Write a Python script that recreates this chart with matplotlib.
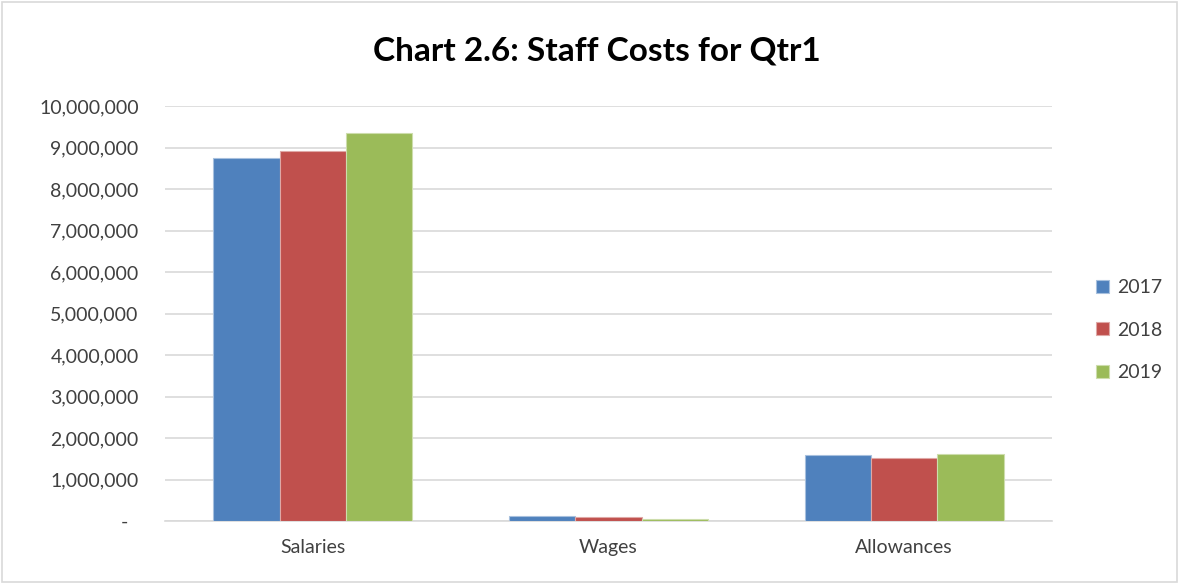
import numpy as np
import matplotlib.pyplot as plt
from matplotlib.patches import Rectangle
from matplotlib.ticker import FuncFormatter

categories = ['Salaries', 'Wages', 'Allowances']
years = ['2017', '2018', '2019']
values_2017 = [8740000, 120000, 1580000]
values_2018 = [8920000, 90000, 1520000]
values_2019 = [9360000, 40000, 1610000]
colors = ['#4F81BD', '#C0504D', '#9BBB59']
edge_colors = ['#A7C0DE', '#DFA8A6', '#CDDDAC']

plt.rcParams['font.family'] = ['Lato', 'DejaVu Sans']

fig = plt.figure(figsize=(11.82, 5.84), dpi=100)
ax = fig.add_axes([165 / 1182, 1 - 521 / 584, (1052 - 165) / 1182, (521 - 106) / 584])

x = np.arange(len(categories))
width = 0.224
series = [values_2017, values_2018, values_2019]
for i, vals in enumerate(series):
    ax.bar(x + (i - 1) * width, vals, width, color=colors[i], edgecolor=edge_colors[i],
           linewidth=0.8, label=years[i], zorder=3)

ax.set_xlim(-0.5, 2.5)
ax.set_ylim(0, 10000000)
ax.set_yticks(np.arange(0, 10000001, 1000000))

def fmt(v, pos):
    if v == 0:
        return '-  '
    return '{:,.0f}'.format(v)

ax.yaxis.set_major_formatter(FuncFormatter(fmt))
ax.set_xticks(x)
ax.set_xticklabels(categories)
ax.tick_params(axis='y', length=0, labelsize=14, colors='#404040', pad=19)
ax.tick_params(axis='x', length=0, labelsize=14, colors='#404040', pad=13)

ax.grid(axis='y', color='#D9D9D9', linewidth=1.2, zorder=0)
for s in ['top', 'right', 'left']:
    ax.spines[s].set_visible(False)
ax.spines['bottom'].set_color('#D9D9D9')
ax.spines['bottom'].set_linewidth(1.2)

fig.text(597 / 1182, 1 - 51 / 584, 'Chart 2.6: Staff Costs for Qtr1', ha='center', va='center',
         fontsize=24, fontweight='bold', color='black')

leg = ax.legend(loc='center left', bbox_to_anchor=(1.03, 0.46), frameon=False, fontsize=14,
                handlelength=0.65, handleheight=0.65, handletextpad=0.45, labelspacing=1.3)
for t in leg.get_texts():
    t.set_color('#404040')

fig.patches.append(Rectangle((0.002, 0.004), 0.994, 0.992, transform=fig.transFigure,
                             fill=False, edgecolor='#D9D9D9', linewidth=1.2))

fig.savefig('out.png', dpi=100, facecolor='white')
